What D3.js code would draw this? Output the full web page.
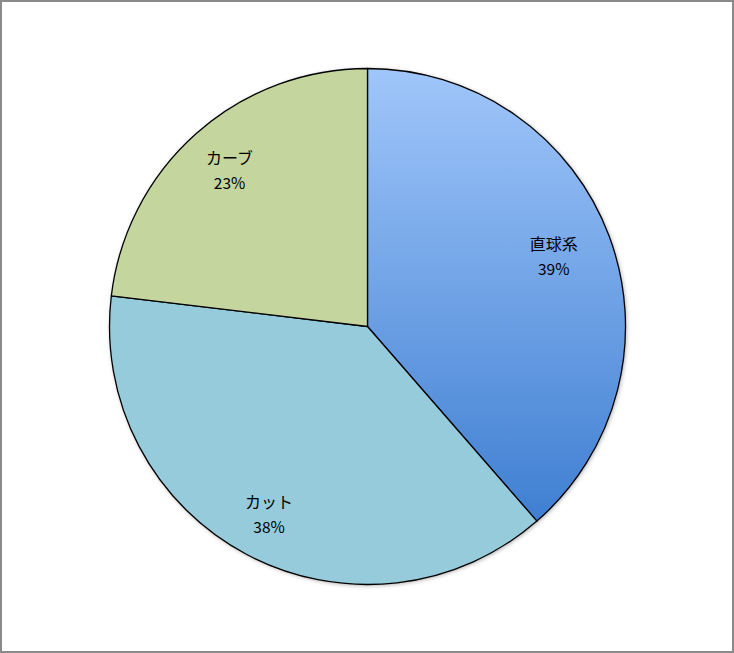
<!DOCTYPE html>
<html><head><meta charset="utf-8">
<script src="https://cdn.jsdelivr.net/npm/d3@7"></script>
<style>html,body{margin:0;padding:0;background:#fff;}</style>
</head><body>
<script>
const categories = ["直球系", "カット", "カーブ"];
const values = [38.6, 38.3, 23.1];
const colors = ["url(#gradBlue)", "#96cbdc", "#c4d59d"];

const W = 734, H = 653;
const svg = d3.select("body").append("svg").attr("width", W).attr("height", H);
const defs = svg.append("defs");
const g1 = defs.append("linearGradient").attr("id", "gradBlue")
  .attr("gradientUnits", "userSpaceOnUse").attr("x1", 0).attr("y1", -258).attr("x2", 0).attr("y2", 200);
g1.append("stop").attr("offset", "0%").attr("stop-color", "#a0c6fa");
g1.append("stop").attr("offset", "100%").attr("stop-color", "#3e7ed1");
const f = defs.append("filter").attr("id", "shadow").attr("x", "-10%").attr("y", "-10%").attr("width", "120%").attr("height", "120%");
f.append("feDropShadow").attr("dx", 1).attr("dy", 1).attr("stdDeviation", 2).attr("flood-color", "#000").attr("flood-opacity", 0.35);

svg.append("rect").attr("x", 1).attr("y", 1).attr("width", W - 2).attr("height", H - 2)
  .attr("fill", "#fff").attr("stroke", "#8a8a8a").attr("stroke-width", 2);

const cx = 367.5, cy = 326.5, R = 258;
const g = svg.append("g").attr("transform", `translate(${cx},${cy})`);
const pie = d3.pie().sort(null).value(d => d)(values);
const arc = d3.arc().innerRadius(0).outerRadius(R);
g.append("circle").attr("r", R).attr("fill", "#fff").attr("filter", "url(#shadow)");
g.selectAll("path.slice").data(pie).join("path").attr("class", "slice")
  .attr("d", arc).attr("fill", (d, i) => colors[i])
  .attr("stroke", "#000").attr("stroke-width", 1.3).attr("stroke-linejoin", "round");

const total = d3.sum(values);
const labelR = [0.775, 0.815, 0.815];
const labelDA = [-0.015, 0, 0.01];
const lab = g.selectAll("g.lab").data(pie).join("g").attr("class", "lab")
  .attr("transform", (d, i) => {
    const a = (d.startAngle + d.endAngle) / 2 + labelDA[i];
    const r = R * labelR[i];
    return `translate(${Math.sin(a) * r},${-Math.cos(a) * r})`;
  });
lab.append("text").attr("text-anchor", "middle").attr("y", -4)
  .style("font-family", "'Noto Sans CJK JP', sans-serif").style("font-size", "16px").attr("fill", "#000")
  .text((d, i) => categories[i]);
lab.append("text").attr("text-anchor", "middle").attr("y", 21)
  .style("font-family", "'Noto Sans CJK JP', sans-serif").style("font-size", "15.5px").attr("fill", "#000")
  .text(d => Math.round(d.value / total * 100) + "%");
</script>
</body></html>
